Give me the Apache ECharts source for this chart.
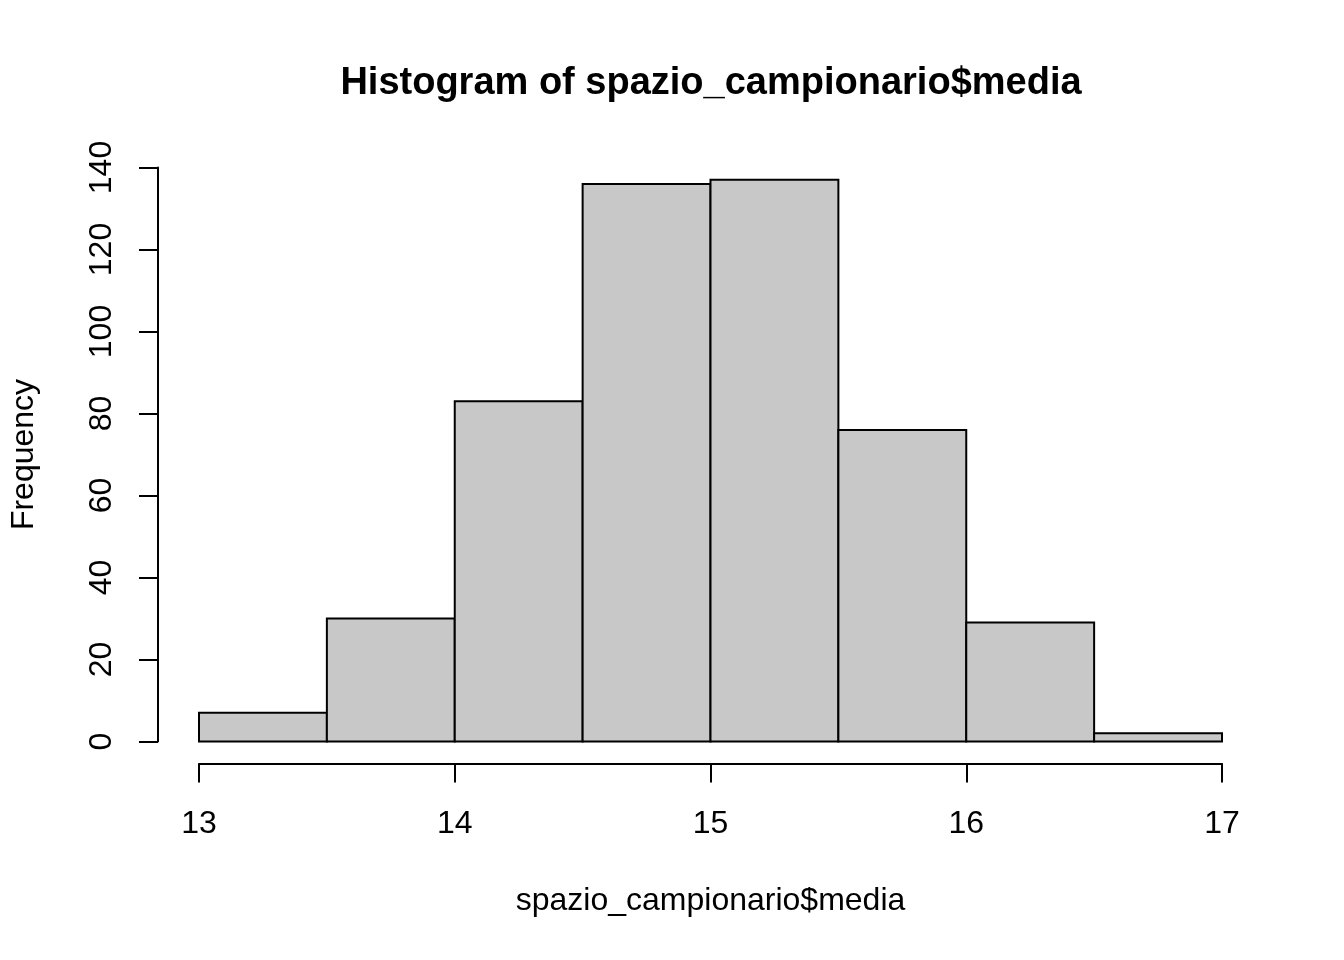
<!DOCTYPE html>
<html lang="en">

<head>
    <meta charset="UTF-8" />
    <title>Histogram of spazio_campionario$media</title>
    <script src="https://cdn.jsdelivr.net/npm/echarts@6/dist/echarts.min.js"></script>
    <style>
        html, body { margin: 0; padding: 0; background: #fff; }
        #main { width: 1344px; height: 960px; }
    </style>
</head>

<body>
    <div id="main"></div>

    <script type="text/javascript">
        // histogram bins (break points) and counts
        const binStarts = [13, 13.5, 14, 14.5, 15, 15.5, 16, 16.5];
        const binEnds = [13.5, 14, 14.5, 15, 15.5, 16, 16.5, 17];
        const counts = [7, 30, 83, 136, 137, 76, 29, 2];

        const xTicks = [13, 14, 15, 16, 17];
        const yTicks = [0, 20, 40, 60, 80, 100, 120, 140];

        const font = '"Liberation Sans", Arial, Helvetica, sans-serif';

        let bars = binStarts.map((s, i) => [s, binEnds[i], counts[i]]);

        function renderBar(params, api) {
            let topLeft = api.coord([api.value(0), api.value(2)]);
            let bottomRight = api.coord([api.value(1), 0]);
            return {
                type: 'rect',
                shape: {
                    x: topLeft[0],
                    y: topLeft[1],
                    width: bottomRight[0] - topLeft[0],
                    height: bottomRight[1] - topLeft[1]
                },
                style: { fill: '#c8c8c8', stroke: '#000', lineWidth: 2 }
            };
        }

        let options = {
            animation: false,
            backgroundColor: '#fff',
            title: {
                text: 'Histogram of spazio_campionario$media',
                left: 706,
                textAlign: 'center',
                top: 60,
                textStyle: { fontFamily: font, fontSize: 38, fontWeight: 'bold', color: '#000' }
            },
            grid: { left: 198, right: 122, top: 167.5, height: 574 },
            xAxis: {
                type: 'value',
                min: xTicks[0],
                max: xTicks[xTicks.length - 1],
                interval: 1,
                offset: 22,
                name: 'spazio_campionario$media',
                nameLocation: 'middle',
                nameGap: 122,
                nameTextStyle: { fontFamily: font, fontSize: 32, color: '#000' },
                axisLine: { onZero: false, lineStyle: { color: '#000', width: 2 } },
                axisTick: { length: 19, lineStyle: { color: '#000', width: 2 } },
                axisLabel: { fontFamily: font, fontSize: 32, color: '#000', margin: 45 },
                splitLine: { show: false }
            },
            yAxis: {
                type: 'value',
                min: yTicks[0],
                max: yTicks[yTicks.length - 1],
                interval: 20,
                offset: 41,
                name: 'Frequency',
                nameLocation: 'middle',
                nameGap: 118,
                nameTextStyle: { fontFamily: font, fontSize: 32, color: '#000' },
                axisLine: { show: true, onZero: false, lineStyle: { color: '#000', width: 2 } },
                axisTick: { show: true, length: 19, lineStyle: { color: '#000', width: 2 } },
                axisLabel: { fontFamily: font, fontSize: 32, color: '#000', rotate: 90, margin: 40 },
                splitLine: { show: false }
            },
            series: [
                {
                    name: 'Frequency',
                    type: 'custom',
                    renderItem: renderBar,
                    encode: { x: [0, 1], y: 2 },
                    data: bars
                }
            ]
        };

        let myChart = echarts.init(document.getElementById('main'));
        myChart.setOption(options);
    </script>
</body>

</html>
